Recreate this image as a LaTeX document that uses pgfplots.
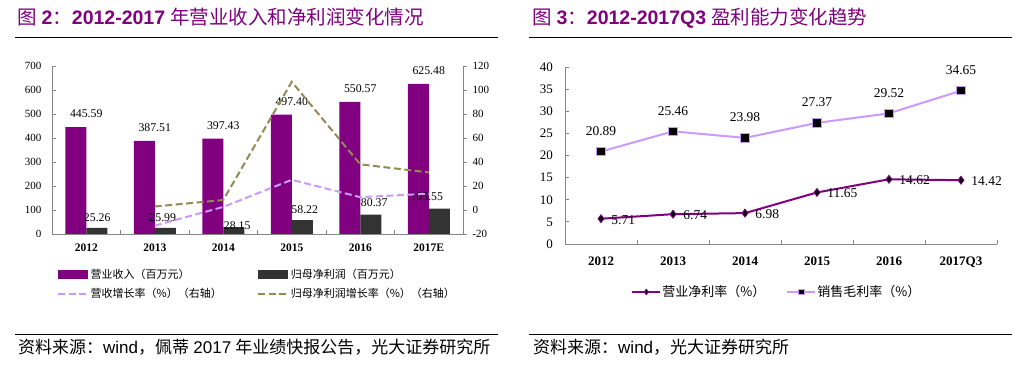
\documentclass[border=0pt]{standalone}
\usepackage{pgfplots}
\pgfplotsset{compat=1.18}
\usepackage{fontspec}
\setmainfont{Liberation Serif}
\newfontfamily\cjk{Noto Sans CJK SC}
\newfontfamily\arial{Liberation Sans}
\definecolor{tpurple}{RGB}{128,0,128}
\definecolor{barpurple}{RGB}{128,0,128}
\definecolor{bardark}{RGB}{51,51,51}
\definecolor{lpurple}{RGB}{204,153,255}
\definecolor{olivec}{RGB}{148,138,84}
\definecolor{axgray}{RGB}{134,134,134}
\pgfplotsset{
  common/.style={
    scale only axis, clip=false,
    xmin=-0.5, xmax=5.5,
    axis line style={axgray, line width=0.8pt, -},
    tick style={axgray, line width=0.8pt},
    major tick length=4pt,
    /pgf/number format/assume math mode=true,
  },
  arealeg/.style={legend image code/.code={\path[##1] (0pt,-4.5pt) rectangle (30pt,4.5pt);}},
  dashleg/.style={legend image code/.code={\draw[##1] (0pt,0pt) -- (30pt,0pt);}},
  markleg/.style={legend image code/.code={\draw[##1, mark size=2.8pt, mark repeat=2, mark phase=2] plot coordinates {(0pt,0pt)(14pt,0pt)(28pt,0pt)};}},
}
\begin{document}
\begin{tikzpicture}[x=1pt,y=1pt]
\path[use as bounding box, fill=white] (0,0) rectangle (1024,374);
% titles
\node[anchor=base west, inner sep=0, text=tpurple, font=\fontsize{19.5}{20}\selectfont] at (17,349)
  {{\cjk 图} {\arial\bfseries 2}{\cjk ：}{\arial\bfseries 2012-2017} {\cjk 年营业收入和净利润变化情况}};
\node[anchor=base west, inner sep=0, text=tpurple, font=\fontsize{19.5}{20}\selectfont] at (532,349)
  {{\cjk 图} {\arial\bfseries 3}{\cjk ：}{\arial\bfseries 2012-2017Q3} {\cjk 盈利能力变化趋势}};
\draw[line width=1pt] (15,336.3) -- (498,336.3);
\draw[line width=1pt] (529,336.3) -- (1012,336.3);
\draw[line width=1pt] (15,39) -- (498,39);
\draw[line width=1pt] (529,39) -- (1012,39);
\node[anchor=base west, inner sep=0, font=\fontsize{17}{18}\selectfont] at (18,20)
  {{\cjk 资料来源：}{\arial wind}{\cjk ，佩蒂} {\arial 2017} {\cjk 年业绩快报公告，光大证券研究所}};
\node[anchor=base west, inner sep=0, font=\fontsize{17}{18}\selectfont] at (533,20)
  {{\cjk 资料来源：}{\arial wind}{\cjk ，光大证券研究所}};

% ---------- left chart, left axis ----------
\begin{axis}[common,
  at={(52pt,140pt)}, anchor=south west, width=411pt, height=168pt,
  ymin=0, ymax=700,
  axis x line*=bottom, axis y line*=left,
  tick align=inside,
  xtick={-0.5,0.5,...,5.5}, x tick label as interval,
  xticklabels={2012,2013,2014,2015,2016,2017E},
  ytick={0,100,...,700},
  yticklabel style={font=\fontsize{11}{12}\selectfont, xshift=-7pt},
  xticklabel style={font=\bfseries\fontsize{11.5}{12}\selectfont, yshift=-6pt},
]
\addplot[ybar, bar width=21pt, bar shift=-10.5pt, fill=barpurple, draw=none,
  nodes near coords={\pgfmathprintnumber[fixed,fixed zerofill,precision=2]{\pgfplotspointmeta}},
  nodes near coords style={font=\fontsize{11.8}{12}\selectfont, text=black, anchor=south, inner sep=0pt, yshift=9pt}]
  coordinates {(0,445.59)(1,387.51)(2,397.43)(3,497.40)(4,550.57)(5,625.48)};
\addplot[ybar, bar width=21pt, bar shift=10.5pt, fill=bardark, draw=none,
  visualization depends on={\thisrow{dx}\as\dx},
  visualization depends on={\thisrow{dy}\as\dy},
  nodes near coords={\pgfmathprintnumber[fixed,fixed zerofill,precision=2]{\pgfplotspointmeta}},
  nodes near coords style={font=\fontsize{11.8}{12}\selectfont, text=black, anchor=south, inner sep=0pt, xshift=\dx pt, yshift=\dy pt}]
  table[x=x,y=y]{
x y dx dy
0 25.26 11 6
1 25.99 8 6
2 28.15 14 -3
3 58.22 13 6
4 80.37 14 8
5 105.55 -2 8
};
\end{axis}

% ---------- left chart, right axis ----------
\begin{axis}[common,
  at={(52pt,140pt)}, anchor=south west, width=411pt, height=168pt,
  ymin=-20, ymax=120,
  axis x line=none, axis y line*=right,
  tick align=outside,
  ytick={-20,0,...,120},
  yticklabel style={font=\fontsize{11}{12}\selectfont, xshift=2pt},
  legend columns=2,
  legend style={draw=none, fill=none, at={(0.012,-0.20)}, anchor=north west, inner sep=0pt,
    font=\cjk\fontsize{11}{12}\selectfont, row sep=5pt,
    nodes={inner sep=1.5pt},
    /tikz/every even column/.append style={column sep=34pt}},
  legend cell align=left,
]
\addlegendimage{arealeg, fill=barpurple, draw=none}
\addlegendentry{营业收入（百万元）}
\addlegendimage{arealeg, fill=bardark, draw=none}
\addlegendentry{归母净利润（百万元）}
\addplot[dashleg, lpurple, line width=2pt, dash pattern=on 7pt off 3.5pt]
  coordinates {(1,-13.03)(2,2.56)(3,25.15)(4,10.69)(5,13.61)};
\addlegendentry{营收增长率（\%）（右轴）}
\addplot[dashleg, olivec, line width=2pt, dash pattern=on 7pt off 3.5pt]
  coordinates {(1,2.89)(2,8.31)(3,106.82)(4,38.04)(5,31.33)};
\addlegendentry{归母净利润增长率（\%）（右轴）}
\end{axis}

% ---------- right chart ----------
\begin{axis}[common,
  at={(565pt,130pt)}, anchor=south west, width=432pt, height=177pt,
  ymin=0, ymax=40,
  axis x line*=bottom, axis y line*=left,
  tick align=inside,
  xtick={-0.5,0.5,...,5.5}, x tick label as interval,
  xticklabels={2012,2013,2014,2015,2016,2017Q3},
  ytick={0,5,...,40},
  yticklabel style={font=\fontsize{13}{14}\selectfont, xshift=-8.5pt},
  xticklabel style={font=\bfseries\fontsize{13}{14}\selectfont, yshift=-9pt},
  legend columns=2,
  legend style={draw=none, fill=none, at={(0.153,-0.271)}, anchor=west, inner sep=0pt,
    font=\cjk\fontsize{13}{14}\selectfont,
    nodes={inner sep=1pt},
    /tikz/every even column/.append style={column sep=20pt}},
  legend cell align=left,
]
\addplot[markleg, tpurple, line width=2pt, mark=diamond*, mark size=4pt,
  mark options={fill=black, draw=tpurple, line width=0.8pt, solid},
  nodes near coords={\pgfmathprintnumber[fixed,fixed zerofill,precision=2]{\pgfplotspointmeta}},
  nodes near coords style={font=\fontsize{13.5}{14}\selectfont, text=black, anchor=west, inner sep=0pt, xshift=10pt, yshift=-1pt}]
  coordinates {(0,5.71)(1,6.74)(2,6.98)(3,11.65)(4,14.62)(5,14.42)};
\addlegendentry{营业净利率（\%）}
\addplot[markleg, lpurple, line width=2pt, mark=square*, mark size=4.3pt,
  mark options={fill=black, draw=lpurple, line width=1pt, solid},
  nodes near coords={\pgfmathprintnumber[fixed,fixed zerofill,precision=2]{\pgfplotspointmeta}},
  nodes near coords style={font=\fontsize{13.5}{14}\selectfont, text=black, anchor=south, inner sep=0pt, yshift=15.5pt}]
  coordinates {(0,20.89)(1,25.46)(2,23.98)(3,27.37)(4,29.52)(5,34.65)};
\addlegendentry{销售毛利率（\%）}
\end{axis}
\end{tikzpicture}
\end{document}
